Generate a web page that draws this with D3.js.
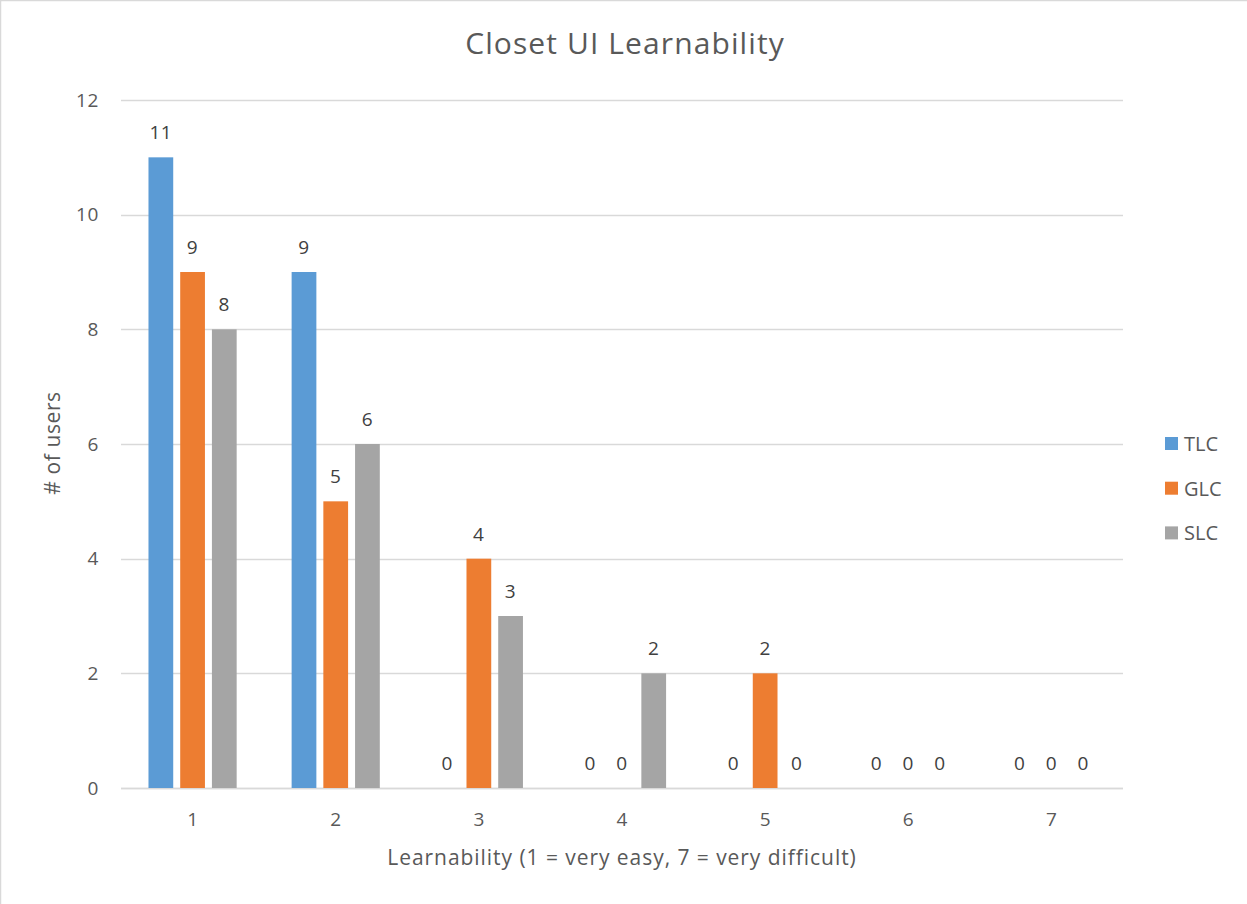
<!DOCTYPE html>
<html>
<head>
<meta charset="utf-8">
<script src="https://cdn.jsdelivr.net/npm/d3@7"></script>
<style>
  html, body { margin: 0; padding: 0; background: #fff; }
  svg { display: block; font-family: "Open Sans", sans-serif; }
</style>
</head>
<body>
<svg id="chart" width="1247" height="904"></svg>
<script>
// Learnability ratings (1 = very easy, 7 = very difficult), users per rating
const categories = ["1", "2", "3", "4", "5", "6", "7"];
const seriesNames = ["TLC", "GLC", "SLC"];
const tlcValues = [11, 9, 0, 0, 0, 0, 0];
const glcValues = [9, 5, 4, 0, 2, 0, 0];
const slcValues = [8, 6, 3, 2, 0, 0, 0];
const yTicks = [0, 2, 4, 6, 8, 10, 12];
const seriesColors = ["#5B9BD5", "#ED7D31", "#A5A5A5"];

const seriesValues = [tlcValues, glcValues, slcValues];

const svg = d3.select("#chart");
const W = 1247, H = 904;
const plot = { left: 121, right: 1123, top: 100, bottom: 788 };

// chart frame
svg.append("rect")
  .attr("x", 0.5).attr("y", 0.5)
  .attr("width", W + 10).attr("height", H + 10)
  .attr("fill", "#fff").attr("stroke", "#D9D9D9").attr("stroke-width", 1.5);

const x0 = d3.scaleBand().domain(categories).range([plot.left, plot.right]).padding(0);
const groupPad = x0.bandwidth() * 0.192;
const x1 = d3.scaleBand().domain(seriesNames)
  .range([groupPad, x0.bandwidth() - groupPad])
  .paddingInner(0.22).paddingOuter(0);
const y = d3.scaleLinear().domain([0, 12]).range([plot.bottom, plot.top]);

// gridlines
svg.append("g")
  .selectAll("line")
  .data(yTicks)
  .join("line")
  .attr("x1", plot.left).attr("x2", plot.right)
  .attr("y1", d => Math.round(y(d)) + 0.5).attr("y2", d => Math.round(y(d)) + 0.5)
  .attr("stroke", "#D9D9D9").attr("stroke-width", 1.3);

// y axis tick labels
const yAxis = d3.axisLeft(y).tickValues(yTicks).tickSize(0).tickPadding(0);
const gy = svg.append("g").attr("transform", `translate(${plot.left - 22},0)`).call(yAxis);
gy.select(".domain").remove();
gy.selectAll("text")
  .attr("font-family", "Open Sans, sans-serif")
  .attr("font-size", 19).attr("fill", "#595959")
  .style("letter-spacing", "0.6px");

// x axis tick labels
const xAxis = d3.axisBottom(x0).tickSize(0).tickPadding(0);
const gx = svg.append("g").attr("transform", `translate(0,${plot.bottom + 24})`).call(xAxis);
gx.select(".domain").remove();
gx.selectAll("text")
  .attr("font-family", "Open Sans, sans-serif")
  .attr("font-size", 19).attr("fill", "#595959");

// baseline
svg.append("line")
  .attr("x1", plot.left).attr("x2", plot.right)
  .attr("y1", y(0) + 0.5).attr("y2", y(0) + 0.5)
  .attr("stroke", "#D9D9D9").attr("stroke-width", 1.5);

// bars and value labels
const groups = svg.append("g")
  .selectAll("g")
  .data(categories)
  .join("g")
  .attr("transform", d => `translate(${x0(d)},0)`);

const cells = groups.selectAll("g.cell")
  .data((c, i) => seriesNames.map((s, k) => ({ s, k, v: seriesValues[k][i] })))
  .join("g").attr("class", "cell");

cells.append("rect")
  .attr("x", d => x1(d.s))
  .attr("width", x1.bandwidth())
  .attr("y", d => y(d.v))
  .attr("height", d => y(0) - y(d.v))
  .attr("fill", d => seriesColors[d.k]);

cells.append("text")
  .attr("x", d => x1(d.s) + x1.bandwidth() / 2)
  .attr("y", d => y(d.v) - 18)
  .attr("text-anchor", "middle")
  .attr("font-size", 19)
  .attr("fill", "#404040")
  .style("letter-spacing", "0.6px")
  .text(d => d.v);

// title
svg.append("text")
  .attr("x", 625).attr("y", 54)
  .attr("text-anchor", "middle")
  .attr("font-size", 30)
  .attr("fill", "#595959")
  .style("letter-spacing", "1.1px")
  .text("Closet UI Learnability");

// axis titles
svg.append("text")
  .attr("x", 622).attr("y", 865)
  .attr("text-anchor", "middle")
  .attr("font-size", 21)
  .attr("fill", "#595959")
  .style("letter-spacing", "0.95px")
  .text("Learnability (1 = very easy, 7 = very difficult)");

svg.append("text")
  .attr("transform", "translate(60,443) rotate(-90)")
  .attr("text-anchor", "middle")
  .attr("font-size", 21)
  .attr("fill", "#595959")
  .style("letter-spacing", "0.6px")
  .text("# of users");

// legend
const legend = svg.append("g")
  .selectAll("g")
  .data(seriesNames)
  .join("g")
  .attr("transform", (d, i) => `translate(1165,${437 + i * 44.7})`);
legend.append("rect")
  .attr("width", 13).attr("height", 13)
  .attr("fill", (d, i) => seriesColors[i]);
legend.append("text")
  .attr("x", 19).attr("y", 14)
  .attr("font-size", 20)
  .attr("fill", "#595959")
  .text(d => d);
</script>
</body>
</html>
